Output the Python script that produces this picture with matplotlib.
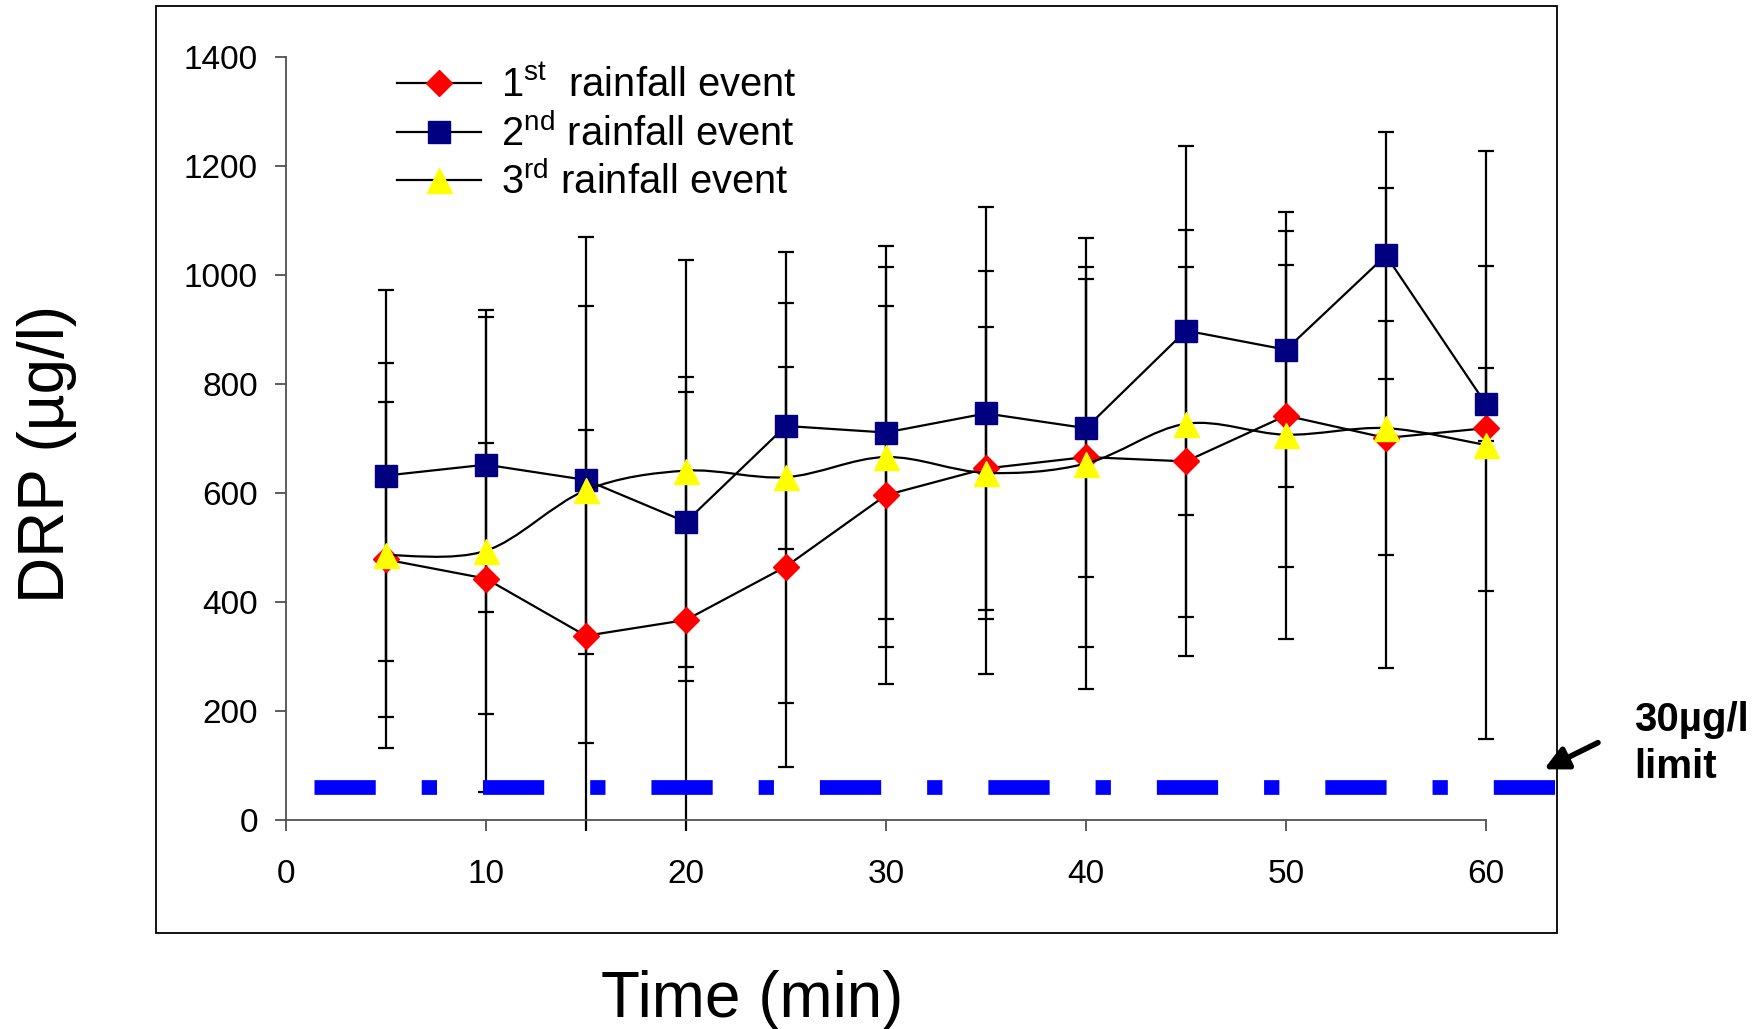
import numpy as np
import matplotlib
matplotlib.use("Agg")
import matplotlib.pyplot as plt
from matplotlib.path import Path
from matplotlib.patches import PathPatch, Rectangle
from matplotlib.lines import Line2D

plt.rcParams['font.family'] = ['Liberation Sans', 'DejaVu Sans']
plt.rcParams['mathtext.fontset'] = 'custom'
plt.rcParams['mathtext.rm'] = 'Liberation Sans'
plt.rcParams['lines.scale_dashes'] = False

# data
time_min = [5, 10, 15, 20, 25, 30, 35, 40, 45, 50, 55, 60]

drp_1 = [478, 443, 338, 367, 465, 596, 645, 666, 658, 742, 701, 719]
sd_1 = [289, 248, 377, 418, 367, 347, 260, 349, 357, 277, 215, 298]

drp_2 = [632, 652, 624, 547, 723, 711, 746, 719, 898, 863, 1036, 763]
sd_2 = [340, 271, 319, 266, 226, 342, 378, 273, 338, 252, 226, 67]

drp_3 = [486, 494, 605, 641, 629, 666, 637, 654, 727, 707, 719, 688]
sd_3 = [353, 442, 464, 386, 414, 349, 370, 414, 355, 374, 441, 539]

labels = [r'1$^{\mathrm{st}}$  rainfall event',
          r'2$^{\mathrm{nd}}$ rainfall event',
          r'3$^{\mathrm{rd}}$ rainfall event']

limit_level = 60
limit_x = [1.43, 63.56]

y_ticks = [0, 200, 400, 600, 800, 1000, 1200, 1400]
x_ticks = [0, 10, 20, 30, 40, 50, 60]


def smooth_path(xs, ys):
    # excel-style smoothed line (bezier through the points)
    pts = np.column_stack([xs, ys]).astype(float)
    n = len(pts)
    verts = [pts[0]]
    codes = [Path.MOVETO]
    for i in range(n - 1):
        p_prev = pts[max(i - 1, 0)]
        p0 = pts[i]
        p1 = pts[i + 1]
        p_next = pts[min(i + 2, n - 1)]
        verts += [p0 + (p1 - p_prev) / 6, p1 - (p_next - p0) / 6, p1]
        codes += [Path.CURVE4] * 3
    return Path(verts, codes)


fig = plt.figure(figsize=(17.64, 10.29), dpi=100)
ax = fig.add_axes([0.162, 0.2031, 0.6804, 0.7415])

# error bars, clipped a little below the x axis
clip_rect = Rectangle((-0.05, -0.015), 1.1, 1.2, transform=ax.transAxes)
for vals, sds in [(drp_1, sd_1), (drp_2, sd_2), (drp_3, sd_3)]:
    eb = ax.errorbar(time_min, vals, yerr=sds, fmt='none', ecolor='black',
                     elinewidth=1.6, capsize=6, capthick=1.6, zorder=2)
    for art in list(eb.lines[1]) + list(eb.lines[2]):
        art.set_clip_path(clip_rect)

h1, = ax.plot(time_min, drp_1, color='black', lw=1.6, marker='D', ms=13.5,
              mfc='#FF0000', mec='#FF0000', clip_on=False, zorder=3)
h2, = ax.plot(time_min, drp_2, color='black', lw=1.6, marker='s', ms=15.5,
              mfc='#000080', mec='#000080', clip_on=False, zorder=3)
ax.add_patch(PathPatch(smooth_path(time_min, drp_3), facecolor='none',
                       edgecolor='black', lw=1.6, clip_on=False, zorder=3))
ax.plot(time_min, drp_3, linestyle='none', marker='^', ms=18,
        mfc='#FFFF00', mec='#FFFF00', clip_on=False, zorder=4)
h3 = Line2D([], [], color='black', lw=1.6, marker='^', ms=18,
            mfc='#FFFF00', mec='#FFFF00')

# limit line
ax.plot(limit_x, [limit_level, limit_level], color='#0000FF', lw=10.6,
        linestyle=(0, (44.1, 33.1, 11, 33.1)), dash_capstyle='butt',
        clip_on=False, zorder=5)

ax.annotate('', xy=(62.9, 93), xytext=(65.6, 142),
            arrowprops=dict(arrowstyle='-|>', color='black', lw=4,
                            mutation_scale=35, shrinkA=0, shrinkB=0),
            annotation_clip=False)
ax.text(67.4, 140, '30µg/l\nlimit', fontsize=29, fontweight='bold',
        ha='left', va='center', linespacing=1.3, clip_on=False)

ax.set_xlim(0, 60)
ax.set_ylim(0, 1400)
ax.set_xticks(x_ticks)
ax.set_yticks(y_ticks)
ax.spines['top'].set_visible(False)
ax.spines['right'].set_visible(False)
for s in ['left', 'bottom']:
    ax.spines[s].set_color('#505050')
    ax.spines[s].set_linewidth(1.3)
ax.tick_params(axis='y', length=8, width=1.3, color='#505050', pad=12, labelsize=24)
ax.tick_params(axis='x', length=8, width=1.3, color='#505050', pad=20, labelsize=24)

ax.legend([h1, h2, h3], labels, loc='upper left', bbox_to_anchor=(0.225, 0.935),
          bbox_transform=fig.transFigure, frameon=False, fontsize=28.7,
          handlelength=2.1, handletextpad=0.5, labelspacing=0.2,
          borderpad=0, borderaxespad=0, numpoints=1)

fig.text(0.0266, 0.5588, 'DRP (µg/l)', rotation=90, fontsize=46,
         ha='center', va='center')
fig.text(0.4263, 0.028, 'Time (min)', fontsize=46, ha='center', va='center')

# chart area border
fig.add_artist(Rectangle((0.0884, 0.0933), 0.794, 0.9013, transform=fig.transFigure,
                         fill=False, edgecolor='black', lw=1.3))

fig.savefig("out.png", dpi=100)
